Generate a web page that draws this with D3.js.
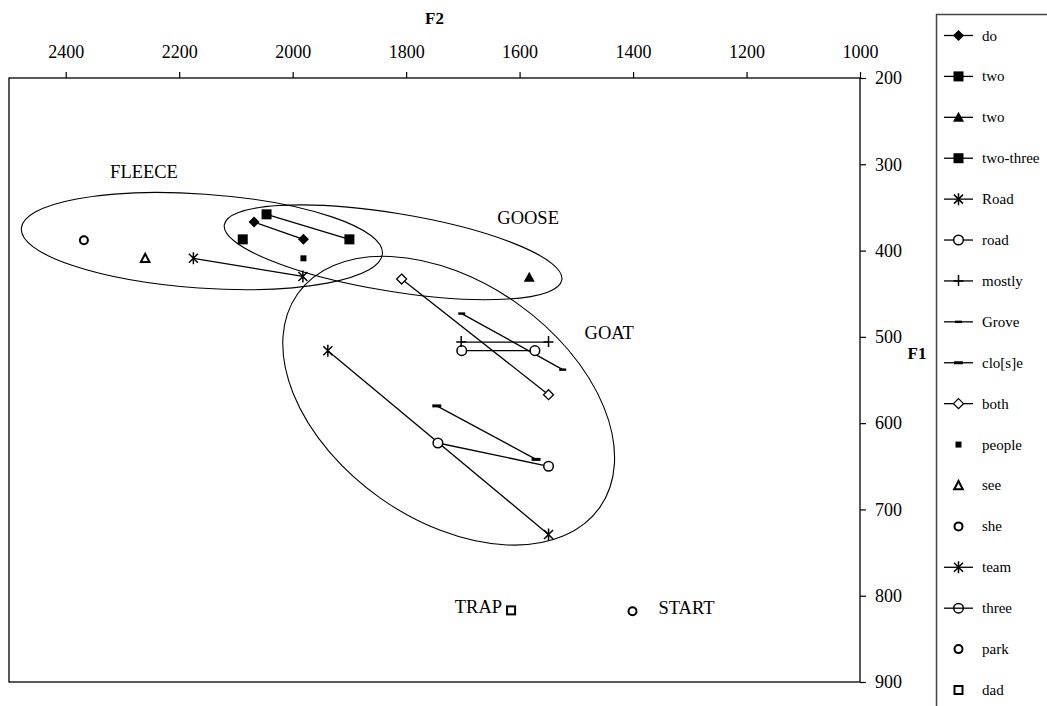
<!DOCTYPE html>
<html>
<head>
<meta charset="utf-8">
<script src="https://cdn.jsdelivr.net/npm/d3@7"></script>
<style>
  html, body { margin: 0; padding: 0; background: #fff; }
  svg { display: block; }
  text { font-family: "Liberation Serif", "Times New Roman", serif; fill: #000; }
</style>
</head>
<body>
<svg id="chart" width="1047" height="706"></svg>
<script>
// Vowel formant measurements: F2 (Hz) across the top, F1 (Hz) down the right side.
const seriesNames = ["do", "two", "two", "two-three", "Road", "road", "mostly", "Grove",
  "clo[s]e", "both", "people", "see", "she", "team", "three", "park", "dad"];
const seriesF2 = [
  [2068, 1981], [2046, 1900], [1583], [2088], [2175, 1982], [1702, 1573],
  [1703, 1549], [1702, 1524], [1746, 1571], [1808, 1549], [1981], [2260],
  [2368], [1938, 1549], [1744, 1549], [1401], [1615]
];
const seriesF1 = [
  [367, 387], [358, 387], [431], [387], [409, 430], [516, 516],
  [506, 506], [473, 538], [580, 642], [433, 567], [409], [409],
  [388], [516, 729], [623, 650], [818], [817]
];

const f2Ticks = [2400, 2200, 2000, 1800, 1600, 1400, 1200, 1000];
const f1Ticks = [200, 300, 400, 500, 600, 700, 800, 900];

// Vowel-class regions (centre in Hz) and their labels
const regionNames = ["FLEECE", "GOOSE", "GOAT"];
const regionF2 = [2160, 1823, 1725];
const regionF1 = [389, 402, 574];
const regionLabelF2 = [2262, 1585, 1442];
const regionLabelF1 = [309, 362, 495];

// Reference points labelled directly on the plot
const pointLabels = ["TRAP", "START"];

// Drawing style per series (marker shape, joined by a line or not)
const seriesMarker = ["diamond", "square", "triangle", "square", "star", "circle", "plus", "dashThin",
  "dash", "diamondOpen", "smallSquare", "triangleOpen", "circleBold", "star", "circleHollow",
  "circleBold", "squareOpen"];
const seriesLine = [true, true, true, true, true, true, true, true, true, true,
  false, false, false, true, true, false, false];

const svg = d3.select("#chart");
const x = d3.scaleLinear().domain([2500, 1000]).range([9, 860]);
const y = d3.scaleLinear().domain([200, 900]).range([78, 682]);

// Plot frame
svg.append("rect")
  .attr("x", x(2500)).attr("y", y(200))
  .attr("width", x(1000) - x(2500)).attr("height", y(900) - y(200))
  .attr("fill", "none").attr("stroke", "#000").attr("stroke-width", 1.3);

// Top axis (F2)
const gx = svg.append("g").attr("transform", `translate(0,${y(200)})`)
  .call(d3.axisTop(x).tickValues(f2Ticks).tickSize(6).tickSizeOuter(0).tickPadding(14).tickFormat(d3.format("d")));
gx.select(".domain").remove();
gx.selectAll("line").attr("stroke", "#000").attr("stroke-width", 1.2);
gx.selectAll("text").style("font-family", "'Liberation Serif', serif").style("font-size", "18px");

// Right axis (F1)
const gy = svg.append("g").attr("transform", `translate(${x(1000)},0)`)
  .call(d3.axisRight(y).tickValues(f1Ticks).tickSize(6).tickSizeOuter(0).tickPadding(9).tickFormat(d3.format("d")));
gy.select(".domain").remove();
gy.selectAll("line").attr("stroke", "#000").attr("stroke-width", 1.2);
gy.selectAll("text").style("font-family", "'Liberation Serif', serif").style("font-size", "18px");

// Axis titles
svg.append("text").attr("x", (x(2500) + x(1000)) / 2).attr("y", 18)
  .attr("text-anchor", "middle").attr("dominant-baseline", "central")
  .style("font-weight", "bold").style("font-size", "17px").text("F2");
svg.append("text").attr("x", 917).attr("y", 353)
  .attr("text-anchor", "middle").attr("dominant-baseline", "central")
  .style("font-weight", "bold").style("font-size", "17px").text("F1");

// Region ellipses: radii in pixels and tilt in degrees
const regionShape = [
  { rx: 181, ry: 47, rot: 4 },
  { rx: 171, ry: 39, rot: 9.3 },
  { rx: 185, ry: 119, rot: 35.3 }
];
const gRegions = svg.append("g");
regionNames.forEach((name, i) => {
  const cx = x(regionF2[i]), cy = y(regionF1[i]);
  gRegions.append("ellipse")
    .attr("cx", 0).attr("cy", 0)
    .attr("rx", regionShape[i].rx).attr("ry", regionShape[i].ry)
    .attr("transform", `translate(${cx},${cy}) rotate(${regionShape[i].rot})`)
    .attr("fill", "none").attr("stroke", "#000").attr("stroke-width", 1.1);
  gRegions.append("text")
    .attr("x", x(regionLabelF2[i])).attr("y", y(regionLabelF1[i]))
    .attr("text-anchor", "middle").attr("dominant-baseline", "central")
    .style("font-size", "18.5px").text(name);
});

// Marker glyphs
function drawMarker(g, type, cx, cy, inLegend) {
  const m = g.append("g").attr("transform", `translate(${cx},${cy})`);
  switch (type) {
    case "diamond":
      m.append("path").attr("d", "M0,-5.5L5.5,0L0,5.5L-5.5,0Z").attr("fill", "#000"); break;
    case "square":
      m.append("rect").attr("x", -5).attr("y", -5).attr("width", 10).attr("height", 10).attr("fill", "#000"); break;
    case "triangle":
      m.append("path").attr("d", "M0,-5.5L5.5,4.5L-5.5,4.5Z").attr("fill", "#000"); break;
    case "star":
      m.append("path").attr("d", "M-4.5,-4.5L4.5,4.5M-4.5,4.5L4.5,-4.5M0,-6V6")
        .attr("fill", "none").attr("stroke", "#000").attr("stroke-width", 1.5); break;
    case "circle":
      m.append("circle").attr("r", 4.8).attr("fill", "#fff").attr("stroke", "#000").attr("stroke-width", 1.5); break;
    case "circleHollow":
      m.append("circle").attr("r", 4.8).attr("fill", inLegend ? "none" : "#fff")
        .attr("stroke", "#000").attr("stroke-width", 1.5); break;
    case "circleBold":
      m.append("circle").attr("r", 4).attr("fill", "#fff").attr("stroke", "#000").attr("stroke-width", 2); break;
    case "plus":
      m.append("path").attr("d", "M-5,0H5M0,-6V5")
        .attr("fill", "none").attr("stroke", "#000").attr("stroke-width", 1.5); break;
    case "dash":
      m.append("rect").attr("x", -4.5).attr("y", -1.5).attr("width", 9).attr("height", 3).attr("fill", "#000"); break;
    case "dashThin":
      m.append("rect").attr("x", -3.5).attr("y", -1.2).attr("width", 7).attr("height", 2.4).attr("fill", "#000"); break;
    case "diamondOpen":
      m.append("path").attr("d", "M0,-5L5,0L0,5L-5,0Z").attr("fill", "#fff")
        .attr("stroke", "#000").attr("stroke-width", 1.3); break;
    case "smallSquare":
      m.append("rect").attr("x", -3).attr("y", -3).attr("width", 6).attr("height", 6).attr("fill", "#000"); break;
    case "triangleOpen":
      m.append("path").attr("d", "M0,-4.5L4.3,3.7L-4.3,3.7Z").attr("fill", "#fff")
        .attr("stroke", "#000").attr("stroke-width", 2); break;
    case "squareOpen":
      m.append("rect").attr("x", -4).attr("y", -4).attr("width", 8).attr("height", 8).attr("fill", "#fff")
        .attr("stroke", "#000").attr("stroke-width", 2); break;
  }
}

// Series lines, then markers on top
const line = d3.line().x(d => x(d[0])).y(d => y(d[1]));
const gLines = svg.append("g");
const gMarks = svg.append("g");
seriesNames.forEach((name, i) => {
  const pts = seriesF2[i].map((v, j) => [v, seriesF1[i][j]]);
  if (seriesLine[i] && pts.length > 1) {
    gLines.append("path").attr("d", line(pts))
      .attr("fill", "none").attr("stroke", "#000").attr("stroke-width", 1.3);
  }
  pts.forEach(p => drawMarker(gMarks, seriesMarker[i], x(p[0]), y(p[1]), false));
});

// Direct labels for the TRAP (dad) and START (park) points
const dadIdx = seriesNames.indexOf("dad"), parkIdx = seriesNames.indexOf("park");
svg.append("text").attr("x", x(seriesF2[dadIdx][0]) - 9).attr("y", y(seriesF1[dadIdx][0]) - 3)
  .attr("text-anchor", "end").attr("dominant-baseline", "central")
  .style("font-size", "18.5px").text(pointLabels[0]);
svg.append("text").attr("x", x(seriesF2[parkIdx][0]) + 26).attr("y", y(seriesF1[parkIdx][0]) - 3)
  .attr("text-anchor", "start").attr("dominant-baseline", "central")
  .style("font-size", "18.5px").text(pointLabels[1]);

// Legend
const legend = svg.append("g");
legend.append("path").attr("d", "M936.5,720V14.5H1060")
  .attr("fill", "none").attr("stroke", "#444").attr("stroke-width", 1.5);
const rowY = d3.scalePoint().domain(d3.range(seriesNames.length)).range([35.5, 690]);
seriesNames.forEach((name, i) => {
  const ry = rowY(i);
  if (seriesLine[i]) {
    legend.append("line").attr("x1", 944).attr("x2", 973).attr("y1", ry).attr("y2", ry)
      .attr("stroke", "#000").attr("stroke-width", 1.3);
  }
  drawMarker(legend, seriesMarker[i], 958.5, ry, true);
  legend.append("text").attr("x", 982).attr("y", ry)
    .attr("dominant-baseline", "central").style("font-size", "15px").text(name);
});
</script>
</body>
</html>
